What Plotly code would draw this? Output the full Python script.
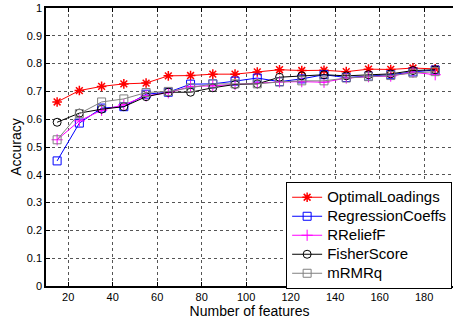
import plotly.graph_objects as go

num_features = [15, 25, 35, 45, 55, 65, 75, 85, 95, 105, 115, 125, 135, 145, 155, 165, 175, 185]

optimal_loadings = [0.662, 0.703, 0.718, 0.727, 0.730, 0.756, 0.757, 0.762, 0.762, 0.770, 0.778, 0.775, 0.776, 0.771, 0.780, 0.779, 0.784, 0.781]
regression_coeffs = [0.450, 0.586, 0.640, 0.645, 0.690, 0.697, 0.726, 0.727, 0.737, 0.748, 0.735, 0.745, 0.760, 0.750, 0.755, 0.760, 0.770, 0.777]
rrelieff = [0.526, 0.594, 0.632, 0.652, 0.684, 0.695, 0.718, 0.720, 0.725, 0.730, 0.734, 0.735, 0.733, 0.748, 0.753, 0.755, 0.769, 0.760]
fisher_score = [0.589, 0.622, 0.636, 0.645, 0.681, 0.697, 0.697, 0.713, 0.725, 0.727, 0.751, 0.756, 0.760, 0.756, 0.760, 0.763, 0.775, 0.778]
mrmrq = [0.526, 0.620, 0.662, 0.673, 0.696, 0.700, 0.713, 0.727, 0.727, 0.727, 0.734, 0.738, 0.738, 0.748, 0.753, 0.757, 0.766, 0.771]

series_names = ["OptimalLoadings", "RegressionCoeffs", "RReliefF", "FisherScore", "mRMRq"]
series_values = [optimal_loadings, regression_coeffs, rrelieff, fisher_score, mrmrq]
series_colors = ["#ff0000", "#0000ff", "#ff00ff", "#000000", "#808080"]
series_symbols = ["asterisk-open", "square-open", "cross-thin-open", "circle-open", "square-open"]

x_ticks = [20, 40, 60, 80, 100, 120, 140, 160, 180]
y_ticks = [0, 0.1, 0.2, 0.3, 0.4, 0.5, 0.6, 0.7, 0.8, 0.9, 1]
y_tick_labels = ["0", "0.1", "0.2", "0.3", "0.4", "0.5", "0.6", "0.7", "0.8", "0.9", "1"]

fig = go.Figure()
for name, vals, color, sym in zip(series_names, series_values, series_colors, series_symbols):
    lw = 1.5 if sym == "asterisk-open" else 1
    fig.add_trace(go.Scatter(
        x=num_features, y=vals,
        name='<span style="font-size:15px">' + name + '</span>',
        mode="lines+markers",
        line=dict(color=color, width=1),
        marker=dict(symbol=sym, size=8, color=color, line=dict(color=color, width=lw)),
    ))

fig.update_layout(
    width=453, height=322,
    margin=dict(l=46, r=0, t=8, b=36),
    paper_bgcolor="white", plot_bgcolor="white",
    font=dict(family="Liberation Sans, Arial, sans-serif", color="black", size=11),
    showlegend=True,
    legend=dict(
        x=0.59, y=0.375, xanchor="left", yanchor="top",
        bordercolor="black", borderwidth=1, bgcolor="white",
        font=dict(size=12, color="black"),
        tracegroupgap=0, itemwidth=30,
    ),
    xaxis=dict(
        range=[10, 193], tickvals=x_ticks,
        showline=True, linecolor="black", linewidth=1.5, mirror="ticks",
        ticks="inside", ticklen=4, tickcolor="black",
        showgrid=True, gridcolor="#555555", griddash="dot", gridwidth=1,
        zeroline=False,
        title=dict(text="Number of features", font=dict(size=14), standoff=2),
    ),
    yaxis=dict(
        range=[0, 1], tickvals=y_ticks, ticktext=y_tick_labels,
        showline=True, linecolor="black", linewidth=1.5,
        ticks="inside", ticklen=4, tickcolor="black",
        showgrid=True, gridcolor="#555555", griddash="dot", gridwidth=1,
        zeroline=False,
        title=dict(text="Accuracy", font=dict(size=14), standoff=2),
    ),
)

fig.write_html("out.html")
